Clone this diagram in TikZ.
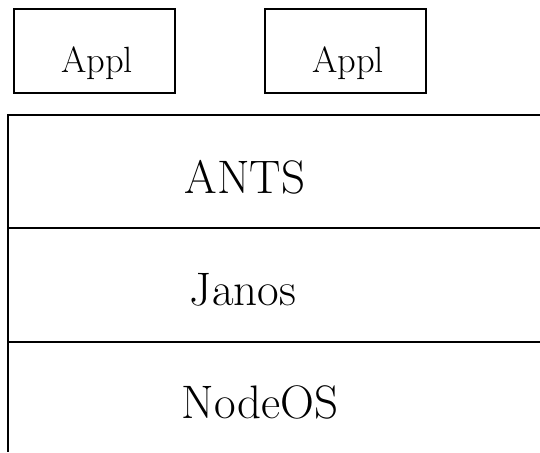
\documentclass[tikz,border=0pt]{standalone}
\usepackage{fontspec}
\begin{document}
\begin{tikzpicture}[x=1pt,y=-1pt,
  applbox/.style={draw,line width=1.2pt,minimum width=161pt,minimum height=84pt,inner sep=0pt},
  appltext/.style={anchor=base,inner sep=0pt,font=\fontsize{36.5}{40}\selectfont},
  layertext/.style={anchor=base,inner sep=0pt,font=\fontsize{47}{52}\selectfont},
  layerline/.style={line width=1.5pt}]
\useasboundingbox (0,0) rectangle (540,452);
% application boxes
\node[applbox] (b1) at (94.5,51) {};
\node[applbox] (b2) at (345.5,51) {};
\node[appltext] (t1) at (97,72) {Appl};
\node[appltext] (t2) at (348,72) {Appl};
% layer stack
\coordinate (tl) at (8,115);
\coordinate (tr) at (540,115);
\coordinate (m1l) at (8,228);
\coordinate (m1r) at (540,228);
\coordinate (m2l) at (8,342);
\coordinate (m2r) at (540,342);
\coordinate (bl) at (8,452);
\draw[layerline] (tr) -- (tl) -- (bl);
\draw[layerline] (m1l) -- (m1r);
\draw[layerline] (m2l) -- (m2r);
\node[layertext] (ants) at (245,193) {ANTS};
\node[layertext] (janos) at (243,305) {Janos};
\node[layertext] (nodeos) at (260,418) {NodeOS};
\end{tikzpicture}
\end{document}
